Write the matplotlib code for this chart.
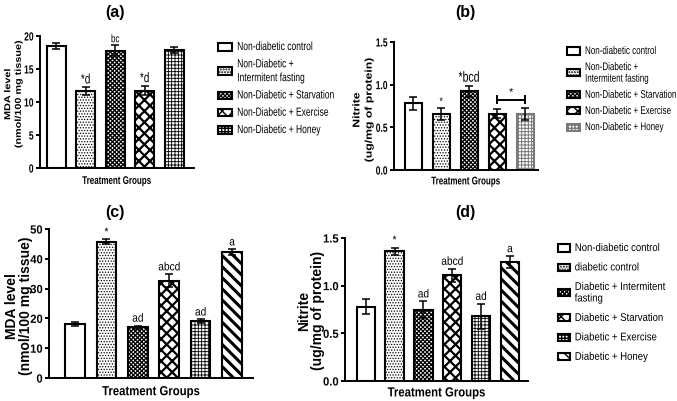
import matplotlib
matplotlib.use('Agg')
import matplotlib.pyplot as plt
from matplotlib.patches import Patch
from matplotlib.patheffects import AbstractPathEffect
from matplotlib.transforms import Affine2D
import numpy as np

# panels (a) and (b): non-diabetic groups
top_groups = ['Non-diabetic control', 'Non-Diabetic +\nIntermitent fasting',
              'Non-Diabetic + Starvation', 'Non-Diabetic + Exercise',
              'Non-Diabetic + Honey']
a_mean = [18.5, 11.6, 17.8, 11.7, 17.9]
a_err = [0.4, 0.6, 0.8, 0.7, 0.5]
a_marks = ['', '*d', 'bc', '*d', '']
a_ticks = [0, 5, 10, 15, 20]

b_mean = [0.78, 0.66, 0.92, 0.66, 0.66]
b_err = [0.075, 0.07, 0.07, 0.05, 0.07]
b_marks = ['', '*', '*bcd', '', '']
nitrite_ticks = [0.0, 0.5, 1.0, 1.5]

# panels (c) and (d): diabetic groups
bottom_groups = ['Non-diabetic control', 'diabetic control',
                 'Diabetic + Intermitent\nfasting', 'Diabetic + Starvation',
                 'Diabetic + Exercise', 'Diabetic + Honey']
c_mean = [18.1, 45.7, 17.0, 32.6, 19.1, 42.2]
c_err = [0.55, 0.8, 0.6, 2.2, 0.55, 1.0]
c_marks = ['', '*', 'ad', 'abcd', 'ad', 'a']
c_ticks = [0, 10, 20, 30, 40, 50]

d_mean = [0.78, 1.36, 0.75, 1.11, 0.68, 1.25]
d_err = [0.077, 0.04, 0.085, 0.067, 0.13, 0.06]
d_marks = ['', '*', 'ad', 'abcd', 'ad', 'a']

# hatch styles: (pattern, hatch linewidth, edge colour)
a_styles = [('', 1.0, 'black'), ('......', 0.6, 'black'), ('xxxxxxxx', 0.9, 'black'),
            ('xxx', 1.6, 'black'), ('+++++', 0.6, 'black')]
b_styles = a_styles[:4] + [('+++++', 0.7, '#7a7a7a')]
cd_styles = [('', 1.0, 'black'), ('......', 0.6, 'black'), ('xxxxxxxx', 0.9, 'black'),
             ('xxx', 1.6, 'black'), ('+++++', 0.6, 'black'), ('\\\\\\', 2.2, 'black')]

plt.rcParams['font.family'] = ['Liberation Sans', 'DejaVu Sans']
W, H = 677, 402


class Squeeze(AbstractPathEffect):
    # narrows drawn text horizontally, the source figure was stretched that way
    def __init__(self, sx, anchor='center'):
        super().__init__()
        self.sx = sx
        self.anchor = anchor

    def draw_path(self, renderer, gc, tpath, affine, rgbFace=None):
        bb = tpath.get_extents(affine)
        if self.anchor == 'left':
            x0 = bb.x0
        elif self.anchor == 'right':
            x0 = bb.x1
        else:
            x0 = (bb.x0 + bb.x1) / 2
        tr = affine + Affine2D().translate(-x0, 0).scale(self.sx, 1).translate(x0, 0)
        renderer.draw_path(gc, tpath, tr, rgbFace)


def sq(sx, anchor='center'):
    return [Squeeze(sx, anchor)]


def make_patch(style):
    hatch, hlw, ec = style
    with plt.rc_context({'hatch.linewidth': hlw, 'hatch.color': ec}):
        p = Patch(facecolor='white', edgecolor=ec, hatch=hatch, lw=1.5)
    if hasattr(p, 'set_hatch_linewidth'):
        p.set_hatch_linewidth(hlw)
    return p


def draw_bars(ax, means, errs, styles, width):
    x = np.arange(len(means))
    for i in range(len(means)):
        hatch, hlw, ec = styles[i]
        with plt.rc_context({'hatch.linewidth': hlw, 'hatch.color': ec}):
            bars = ax.bar(x[i], means[i], width, color='white', edgecolor=ec,
                          hatch=hatch, lw=1.5, zorder=2)
        for b in bars:
            if hasattr(b, 'set_hatch_linewidth'):
                b.set_hatch_linewidth(hlw)
    ax.errorbar(x, means, yerr=errs, fmt='none', ecolor='black', elinewidth=1.1,
                capsize=3, capthick=1.1, zorder=3)
    return x


def style_axes(ax, ticks, labels, size, sx):
    for s in ['top', 'right']:
        ax.spines[s].set_visible(False)
    for s in ['left', 'bottom']:
        ax.spines[s].set_linewidth(1.4)
    ax.set_xticks([])
    ax.set_yticks(ticks, labels, fontsize=size, fontweight='bold',
                  path_effects=sq(sx, 'right'))
    ax.tick_params(axis='y', width=1.4, length=3, pad=1.5)


def add_legend(handles, labels, x, y, size, spacing, sx, hl):
    leg = fig.legend(handles, labels, loc='upper left', bbox_to_anchor=(x / W, 1 - y / H),
                     frameon=False, handlelength=hl, handleheight=0.6,
                     handletextpad=0.4, borderpad=0, borderaxespad=0,
                     labelspacing=spacing, prop={'size': size})
    for t in leg.get_texts():
        t.set_path_effects(sq(sx, 'left'))
    # centre each patch on its (possibly two-line) label
    for col in leg._legend_handle_box.get_children():
        for row in col.get_children():
            row.align = 'center'
    return leg


fig = plt.figure(figsize=(6.77, 4.02), dpi=100)


def axes_px(left, right, top, bottom):
    return fig.add_axes([left / W, 1 - bottom / H, (right - left) / W, (bottom - top) / H])


TOP_SX = 0.72
LOW_SX = 0.86

# (a)
ax_a = axes_px(40, 194, 37, 169)
x = draw_bars(ax_a, a_mean, a_err, a_styles, 0.65)
ax_a.set_ylim(0, 20)
ax_a.set_xlim(-0.55, 4.67)
style_axes(ax_a, a_ticks, [str(t) for t in a_ticks], 8.5, TOP_SX)
for i, m in enumerate(a_marks):
    if m:
        ax_a.text(x[i], a_mean[i] + a_err[i] + 0.15, m, ha='center', va='bottom',
                  fontsize=10 if m == '*d' else 8, path_effects=sq(TOP_SX))
ax_a.set_xlabel('Treatment Groups', fontsize=8, fontweight='bold',
                path_effects=sq(TOP_SX))
ax_a.xaxis.set_label_coords(0.5, -0.06)
ax_a.set_ylabel('MDA level\n(nmol/100 mg tissue)', fontsize=7.8, fontweight='bold',
                linespacing=1.05, path_effects=sq(0.8))
ax_a.yaxis.set_label_coords(-0.108, 0.56)

# (b)
ax_b = axes_px(394, 538, 43, 171)
x = draw_bars(ax_b, b_mean, b_err, b_styles, 0.61)
ax_b.set_ylim(0, 1.5)
ax_b.set_xlim(-0.68, 4.45)
style_axes(ax_b, nitrite_ticks, ['%.1f' % t for t in nitrite_ticks], 8.5, TOP_SX)
for i, m in enumerate(b_marks):
    if m:
        ax_b.text(x[i], b_mean[i] + b_err[i] + 0.01, m, ha='center', va='bottom',
                  fontsize=8 if m == '*' else 10.5, path_effects=sq(TOP_SX))
ax_b.plot([x[3], x[4]], [0.825, 0.825], color='black', lw=1.4, zorder=4)
ax_b.plot([x[3], x[3]], [0.78, 0.87], color='black', lw=1.4, zorder=4)
ax_b.plot([x[4], x[4]], [0.78, 0.87], color='black', lw=1.4, zorder=4)
ax_b.text((x[3] + x[4]) / 2, 0.87, '*', ha='center', va='bottom', fontsize=8)
ax_b.set_xlabel('Treatment Groups', fontsize=8, fontweight='bold',
                path_effects=sq(TOP_SX))
ax_b.xaxis.set_label_coords(0.5, -0.05)
ax_b.set_ylabel('Nitrite\n(ug/mg of protein)', fontsize=8.8, fontweight='bold',
                linespacing=1.0, path_effects=sq(0.8))
ax_b.yaxis.set_label_coords(-0.13, 0.47)

# (c)
ax_c = axes_px(49, 253, 230, 379)
x = draw_bars(ax_c, c_mean, c_err, cd_styles, 0.63)
ax_c.set_ylim(0, 50)
ax_c.set_xlim(-0.83, 5.67)
style_axes(ax_c, c_ticks, [str(t) for t in c_ticks], 8.5, 0.95)
for i, m in enumerate(c_marks):
    if m:
        ax_c.text(x[i], c_mean[i] + c_err[i] + 0.3, m, ha='center', va='bottom',
                  fontsize=8.5, path_effects=sq(LOW_SX))
ax_c.set_xlabel('Treatment Groups', fontsize=9.5, fontweight='bold',
                path_effects=sq(LOW_SX))
ax_c.xaxis.set_label_coords(0.5, -0.055)
ax_c.set_ylabel('MDA level\n(nmol/100 mg tissue)', fontsize=10, fontweight='bold',
                linespacing=1.0)
ax_c.yaxis.set_label_coords(-0.08, 0.49)

# (d)
ax_d = axes_px(345, 528, 239, 382)
x = draw_bars(ax_d, d_mean, d_err, cd_styles, 0.64)
ax_d.set_ylim(0, 1.5)
ax_d.set_xlim(-0.72, 5.63)
style_axes(ax_d, nitrite_ticks, ['%.1f' % t for t in nitrite_ticks], 8.5, 0.95)
for i, m in enumerate(d_marks):
    if m:
        ax_d.text(x[i], d_mean[i] + d_err[i] + 0.01, m, ha='center', va='bottom',
                  fontsize=8.5, path_effects=sq(LOW_SX))
ax_d.set_xlabel('Treatment Groups', fontsize=9.5, fontweight='bold',
                path_effects=sq(LOW_SX))
ax_d.xaxis.set_label_coords(0.5, -0.045)
ax_d.set_ylabel('Nitrite\n(ug/mg of protein)', fontsize=10, fontweight='bold',
                linespacing=1.0)
ax_d.yaxis.set_label_coords(-0.11, 0.5)

# panel titles
for lab, px, py in [('(a)', 115, 13), ('(b)', 465, 13), ('(c)', 115, 213), ('(d)', 465, 213)]:
    fig.text(px / W, 1 - py / H, lab, ha='center', va='center', fontsize=11.5,
             fontweight='bold')

# legends
add_legend([make_patch(s) for s in a_styles], top_groups, 218, 42, 8.5, 0.45, TOP_SX, 1.2)
add_legend([make_patch(s) for s in b_styles], top_groups, 567, 47, 8, 0.55, TOP_SX, 1.2)
add_legend([make_patch(s) for s in cd_styles], bottom_groups, 558, 244, 8, 0.85, LOW_SX, 1.1)

fig.savefig('out.png', dpi=100)
